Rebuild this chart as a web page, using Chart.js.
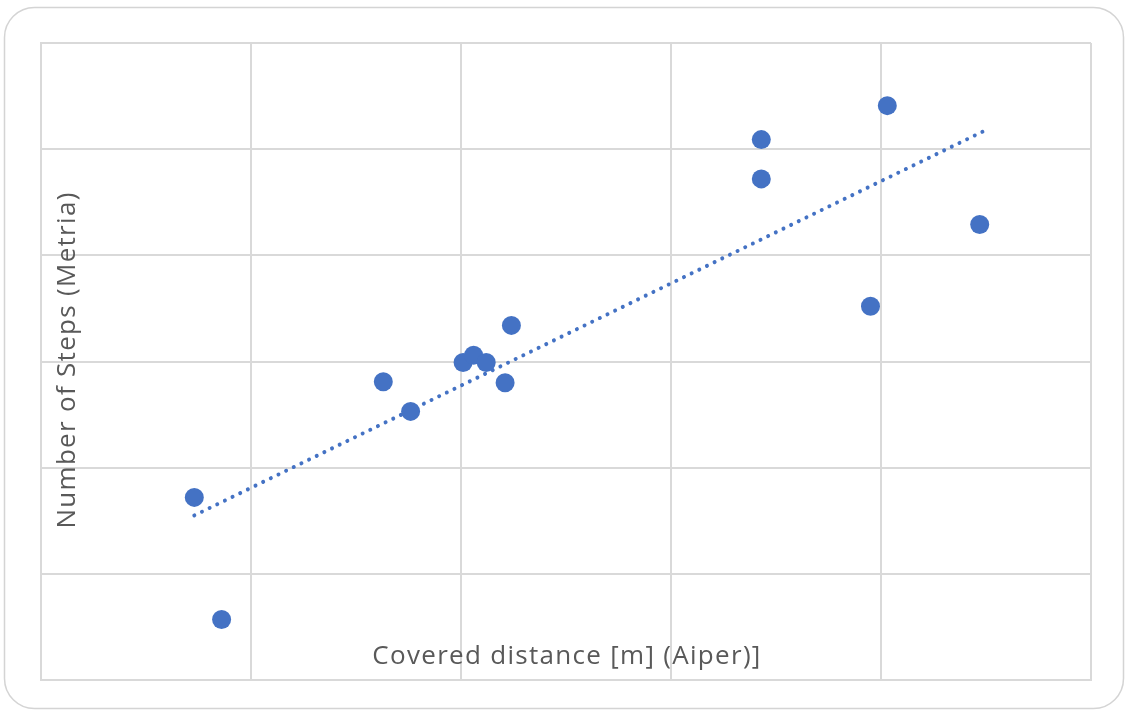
<!DOCTYPE html>
<html>
<head>
<meta charset="utf-8">
<script src="https://cdn.jsdelivr.net/npm/chart.js@4"></script>
<style>
  html, body { margin: 0; padding: 0; background: #fff; }
  #wrap { width: 1125px; height: 711px; }
</style>
</head>
<body>
<div id="wrap"><canvas id="myChart" width="1125" height="711"></canvas></div>
<script>
// measured points (no tick labels in the original, so units are grid cells)
const distance = [0.73, 0.86, 1.63, 1.76, 2.01, 2.06, 2.12, 2.21, 2.24, 3.43, 3.43, 3.95, 4.03, 4.47];
const steps    = [1.72, 0.57, 2.81, 2.53, 2.99, 3.06, 2.99, 2.80, 3.34, 5.09, 4.72, 3.52, 5.41, 4.29];

// linear trendline end points
const trendX = [0.73, 4.51];
const trendY = [1.55, 5.19];

const xTitle = "Covered distance [m] (Aiper)]";
const yTitle = "Number of Steps (Metria)";

const blue = "#4472C4";
const gridGrey = "#d9d9d9";
const textGrey = "#595959";

// frame around the whole chart and axis titles drawn inside the plot
const decorations = {
  id: "decorations",
  beforeDraw(chart) {
    const ctx = chart.ctx;
    ctx.save();
    ctx.strokeStyle = "#d4d4d4";
    ctx.lineWidth = 1.5;
    ctx.beginPath();
    ctx.roundRect(4.5, 7.5, 1119, 701, 30);
    ctx.stroke();
    ctx.restore();
  },
  afterDatasetsDraw(chart) {
    const ctx = chart.ctx;
    const area = chart.chartArea;
    ctx.save();
    ctx.fillStyle = textGrey;
    ctx.font = "26px 'Open Sans'";
    ctx.letterSpacing = "1.3px";
    ctx.textAlign = "center";
    ctx.textBaseline = "middle";
    ctx.fillText(xTitle, 567, 657);
    ctx.translate(68, 360);
    ctx.rotate(-Math.PI / 2);
    ctx.fillText(yTitle, 0, 0);
    ctx.restore();
  }
};

const generateGraph = () => {
  let points = [];
  distance.forEach((d, i) => {
    points.push({ x: d, y: steps[i] });
  });

  let trend = trendX.map((x, i) => ({ x: x, y: trendY[i] }));

  let ctx = document.getElementById("myChart").getContext("2d");
  new Chart(ctx, {
    type: "scatter",
    data: {
      datasets: [
        {
          label: "Steps",
          data: points,
          backgroundColor: blue,
          borderWidth: 0,
          pointRadius: 9.5,
          pointHoverRadius: 9.5
        },
        {
          label: "Trend",
          type: "line",
          data: trend,
          showLine: true,
          borderColor: blue,
          borderWidth: 4,
          borderDash: [0.01, 8.5],
          borderCapStyle: "round",
          pointRadius: 0,
          fill: false
        }
      ]
    },
    options: {
      responsive: false,
      animation: false,
      layout: { padding: { left: 41, top: 43, right: 34, bottom: 31 } },
      plugins: {
        legend: { display: false },
        tooltip: { enabled: false }
      },
      scales: {
        x: {
          type: "linear",
          min: 0,
          max: 5,
          ticks: { display: false, stepSize: 1 },
          grid: { color: gridGrey, lineWidth: 2, drawTicks: false },
          border: { color: gridGrey, width: 2 }
        },
        y: {
          min: 0,
          max: 6,
          ticks: { display: false, stepSize: 1 },
          grid: { color: gridGrey, lineWidth: 2, drawTicks: false },
          border: { color: gridGrey, width: 2 }
        }
      }
    },
    plugins: [decorations]
  });
};

generateGraph();
</script>
</body>
</html>
